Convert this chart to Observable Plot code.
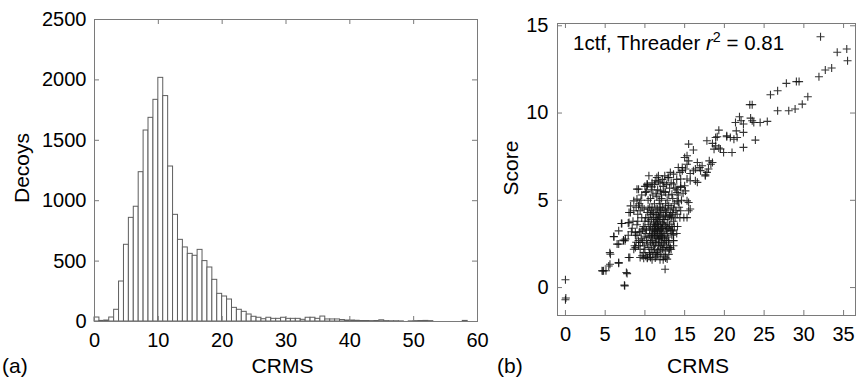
<!DOCTYPE html>
<html>
<head>
<meta charset="utf-8">
<script src="https://cdn.jsdelivr.net/npm/d3@7"></script>
<script src="https://cdn.jsdelivr.net/npm/@observablehq/plot@0.6"></script>
<style>
  body { margin: 0; background: #fff; }
  #wrap { position: relative; width: 856px; height: 380px; font-family: 'Liberation Sans', Arial, sans-serif; color: #000; overflow: hidden; }
  .lbl { position: absolute; font-size: 21px; line-height: 21px; white-space: nowrap; }
  .panel { position: absolute; top: 0; }
  #wrap svg text { font-size: 20px !important; font-family: 'Liberation Sans', Arial, sans-serif; }
</style>
</head>
<body>
<div id="wrap">
  <div class="panel" id="left" style="left:0px"></div>
  <div class="panel" id="right" style="left:490px"></div>
  <div class="lbl" style="left:2px; top:355px">(a)</div>
  <div class="lbl" style="left:282.5px; top:355px; transform:translateX(-50%)">CRMS</div>
  <div class="lbl" style="left:497px; top:355px">(b)</div>
  <div class="lbl" style="left:698px; top:355px; transform:translateX(-50%)">CRMS</div>
  <div class="lbl" style="left:20.5px; top:168px; transform:translate(-50%,-50%) rotate(-90deg)">Decoys</div>
  <div class="lbl" style="left:510px; top:167.5px; transform:translate(-50%,-50%) rotate(-90deg)">Score</div>
  <div class="lbl" style="left:573px; top:33px; font-size:20.5px; line-height:20.5px">1ctf, Threader <i>r</i><sup style="font-size:0.7em; line-height:0; vertical-align:0.55em">2</sup> = 0.81</div>
</div>
<script>
// ---------- Panel (a): histogram of decoy CRMS ----------
const binWidth = 10 / 13;
const decoyCounts = [
  33, 5, 8, 33, 97, 331, 635, 858, 950, 1236,
  1581, 1686, 1835, 2017, 1866, 1283, 883, 676, 613, 560,
  544, 593, 500, 447, 345, 229, 207, 182, 113, 97,
  80, 58, 39, 31, 19, 31, 22, 22, 31, 22,
  22, 22, 14, 31, 31, 22, 41, 17, 17, 17,
  12, 8, 8, 6, 4, 4, 3, 4, 10, 3,
  2, 2, 1, 0, 1, 3, 4, 5, 3, 0,
  0, 0, 0, 0, 0, 5
];
const xTicksA = [0, 10, 20, 30, 40, 50, 60];
const yTicksA = [0, 500, 1000, 1500, 2000, 2500];

// ---------- Panel (b): score vs CRMS ----------
const crms = [
  0.0, 0.0, 0.05, 4.7, 5.1, 5.6, 5.58, 6.7, 7.42, 7.67, 6.08, 7.04, 6.7, 7.3, 8.1, 12.54, 12.8, 9.0, 10.28, 10.5, 11.7,
  32.1, 34.2, 35.4, 35.5, 31.9, 32.7, 33.5, 25.8, 26.7, 27.8, 29.06, 29.4, 26.7, 28.1, 28.9, 29.8, 30.5, 23.2, 23.5,
  21.9, 23.3, 22.1, 21.4, 23.5, 23.7, 24.5, 25.4, 22.4, 23.9, 21.5, 22.4, 21.6, 20.75, 21.2, 20.3, 22.4,
  19.3, 19.1, 20.3, 17.8, 18.5, 18.9, 19.5, 19.9, 15.5, 16.1, 15.3, 15.5, 16.6, 17.2, 18.5, 18.0, 17.8, 16.35, 15.1,
  14.7, 15.7, 17.0, 14.5, 15.3, 16.35, 17.6, 13.2, 13.0, 11.5, 11.3, 12.4, 13.6, 14.5, 14.05, 15.1, 13.4, 12.6, 11.95,
  10.3, 15.3, 15.5, 15.7, 14.9, 13.6, 13.4, 13.6, 13.0, 13.2,
  20.96, 18.9, 18.7, 19.3, 18.1, 18.3, 17.6, 16.9, 16.1, 14.7, 15.3, 15.7, 16.6, 15.0, 15.5, 15.3, 14.06, 14.06, 13.4,
  13.6, 13.1, 11.6, 10.7, 9.85, 9.4, 10.3, 8.18, 8.6, 9.2, 7.9, 8.4, 9.0, 7.9, 7.5, 8.6, 9.2, 9.85, 14.2, 15.0,
  10.3, 10.9, 9.2, 10.06, 9.0, 8.2, 8.6, 8.0, 9.65, 7.1, 8.0, 6.7, 6.1, 7.55, 6.5, 7.3, 8.8, 8.8, 9.4, 9.65, 10.3,
  7.96, 6.7, 5.66, 5.45, 4.8, 4.6, 7.76, 7.46,
  10.8, 11.2, 11.5, 11.9, 12.2, 11.0, 11.7, 12.5, 10.5, 11.3, 11.8, 12.1, 12.4, 10.9, 11.6, 12.0, 12.7, 11.4, 10.7,
  10.2, 10.4, 11.1, 11.9, 12.3, 12.8, 13.1, 12.9, 13.3, 12.6, 11.8, 11.2, 10.6, 10.1, 9.8, 9.9, 10.3, 10.8, 11.4,
  12.0, 12.6, 13.0, 13.4, 13.6, 13.9, 13.5, 13.0, 12.4, 11.6, 11.0, 10.4, 9.9, 9.6, 9.5, 9.7, 10.0, 10.6, 11.3, 11.9,
  12.4, 11.0, 11.6, 12.2, 11.3, 10.9, 12.0, 11.7, 11.5, 12.6, 12.3, 10.6, 11.9, 12.8, 11.1, 13.2, 10.3, 12.9, 11.4,
  11.8, 12.5, 10.7, 12.1, 11.5, 13.7, 14.2, 14.5, 13.8, 14.0, 13.3, 12.7, 12.2, 14.6, 14.3, 14.8, 13.6, 14.4, 12.9,
  12.3, 11.7, 11.2, 10.8, 10.2, 9.6, 9.3, 9.1, 9.0, 8.8, 9.2, 9.4, 8.7, 10.1, 10.9, 12.7, 13.3, 13.6, 14.1, 14.4,
  13.2, 12.0, 11.6, 12.4, 11.2, 10.9, 11.8, 12.6, 13.0, 10.4, 10.0, 11.3, 11.7, 12.1, 11.0, 12.2, 13.4, 12.8, 11.4,
  10.7, 12.3, 11.9, 11.1, 12.7,
  11.3, 11.6, 12.0, 11.5, 10.9, 11.8, 12.3, 11.1, 10.6, 12.5, 11.4, 12.2, 11.7, 11.0, 12.6, 13.1, 11.9, 10.4, 10.0,
  9.7, 10.5, 11.2, 12.9, 13.5, 13.8, 12.1, 11.4, 10.7, 9.4, 9.1, 9.3, 9.6, 10.2, 12.4, 13.0, 12.2, 11.6, 10.8, 10.1,
  11.3, 12.0, 12.7, 13.3, 12.9, 13.5, 14.2, 14.0, 13.1, 12.5, 11.9, 10.9, 10.0, 9.5, 8.9, 8.5, 8.3, 8.9, 10.6, 11.6,
  12.3, 12.1, 11.5, 11.2, 10.8, 12.4, 11.8, 12.8, 11.0, 10.5, 12.0, 13.7, 14.5, 9.9, 11.4, 13.0, 12.6, 14.0, 13.6
];
const score = [
  0.45, -0.7, -0.6, 0.95, 0.96, 1.34, 2.0, 1.4, 0.14, 0.86, 2.93, 3.67, 2.49, 2.72, 1.72, 1.05, 1.63, 5.64, 5.93, 6.41, 6.41,
  14.37, 13.48, 13.67, 13.0, 12.08, 12.47, 12.58, 11.05, 11.28, 11.7, 11.8, 11.8, 10.13, 10.13, 10.23, 10.51, 10.93, 10.48, 10.48,
  9.79, 9.71, 9.56, 9.46, 9.56, 9.46, 9.46, 9.52, 9.37, 8.45, 8.98, 8.89, 8.6, 8.6, 8.5, 8.7, 8.03,
  9.02, 8.64, 8.64, 8.41, 8.26, 8.12, 7.94, 7.74, 8.22, 7.88, 7.55, 7.26, 7.17, 6.98, 7.17, 6.79, 6.6, 6.79, 6.79,
  6.7, 6.54, 6.7, 6.22, 6.22, 6.12, 6.4, 6.6, 6.31, 6.31, 6.12, 6.0, 5.93, 5.73, 5.45, 5.54, 5.35, 5.45, 5.54,
  5.83, 4.97, 4.4, 4.5, 4.01, 4.5, 4.1, 3.06, 2.68, 2.29,
  7.74, 8.6, 7.93, 8.0, 7.26, 7.07, 6.46, 6.88, 6.69, 6.88, 7.07, 6.12, 6.03, 5.83, 4.87, 4.01, 4.2, 4.97, 3.25,
  2.68, 2.2, 2.1, 1.72, 1.68, 1.72, 1.68, 4.3, 4.97, 4.69, 3.7, 3.4, 3.0, 3.0, 2.68, 2.2, 2.4, 2.0, 6.88, 7.45,
  5.9, 5.77, 5.64, 5.45, 5.07, 4.68, 4.4, 4.3, 4.6, 3.67, 3.73, 3.25, 2.91, 2.78, 2.49, 2.68, 3.15, 2.29, 2.58, 1.82, 1.72,
  1.72, 1.43, 1.91, 1.24, 0.96, 0.96, 0.8, 0.1,
  3.9, 3.5, 3.2, 3.8, 3.4, 3.1, 4.1, 3.9, 3.6, 2.9, 2.6, 3.0, 2.8, 2.7, 3.6, 4.4, 4.3, 4.5, 4.2,
  3.3, 2.9, 2.4, 2.2, 2.5, 3.1, 3.6, 4.0, 4.6, 4.8, 5.0, 4.8, 4.6, 4.0, 3.5, 2.9, 2.5, 2.2, 2.0,
  1.9, 2.1, 2.6, 3.0, 3.8, 4.4, 5.1, 5.3, 5.5, 5.6, 5.3, 5.0, 4.5, 4.0, 3.2, 2.6, 2.2, 1.9, 1.7, 1.6,
  1.8, 3.4, 3.0, 3.7, 3.8, 3.3, 3.3, 2.8, 4.0, 3.5, 4.1, 3.0, 4.6, 3.7, 4.3, 3.3, 4.3, 2.9, 2.6,
  3.3, 2.7, 2.6, 5.1, 5.2, 4.8, 5.3, 5.8, 5.7, 6.2, 6.0, 5.9, 6.2, 5.0, 4.6, 5.4, 6.5, 6.6, 6.3,
  5.8, 6.1, 5.9, 5.6, 5.5, 5.3, 4.8, 4.2, 3.6, 3.0, 2.7, 2.2, 2.4, 1.8, 1.6, 2.4, 2.2, 2.7, 3.5, 4.0,
  4.2, 2.9, 3.9, 4.5, 3.0, 4.6, 4.3, 4.1, 4.7, 3.8, 3.4, 3.3, 3.5, 2.6, 2.0, 2.2, 3.5, 5.0, 4.2,
  3.5, 3.2, 3.1, 3.7, 3.3,
  3.6, 3.3, 3.6, 2.8, 3.0, 4.0, 3.9, 4.0, 3.3, 3.0, 3.4, 2.9, 2.4, 2.6, 4.4, 4.1, 4.8, 4.5, 3.8,
  3.3, 2.3, 2.2, 2.3, 3.3, 4.0, 5.3, 5.4, 5.1, 4.4, 3.8, 3.2, 2.8, 2.7, 2.3, 3.4, 4.6, 4.5, 4.4, 3.1,
  2.5, 2.4, 2.7, 4.0, 4.5, 4.3, 4.9, 5.6, 5.7, 6.4, 6.0, 6.0, 5.8, 5.0, 4.6, 3.8, 3.2, 2.6, 2.0, 1.9,
  1.6, 3.4, 3.7, 3.2, 2.9, 3.6, 2.9, 3.4, 4.2, 4.0, 4.2, 3.5, 4.4, 2.4, 1.8, 1.9, 1.7, 3.1, 2.4
];
const xTicksB = [0, 5, 10, 15, 20, 25, 30, 35];
const yTicksB = [0, 5, 10, 15];

const font = "'Liberation Sans', Arial, sans-serif";
const frameColor = "#7a7a7a";
const tickLen = 5;
const fmt = d => String(d);

// Panel (a)
const wA = 490, hA = 380, mlA = 94, mrA = 13, mtA = 19, mbA = 59;
const fwA = wA - mlA - mrA, fhA = hA - mtA - mbA;
const plotA = Plot.plot({
  width: wA, height: hA,
  marginLeft: mlA, marginRight: mrA, marginTop: mtA, marginBottom: mbA,
  x: {domain: [0, 60]},
  y: {domain: [0, 2500]},
  style: {fontFamily: font, fontSize: "20px", color: "#000", background: "transparent", overflow: "visible"},
  marks: [
    Plot.rectY(decoyCounts, {
      x1: (d, i) => i * binWidth,
      x2: (d, i) => (i + 1) * binWidth,
      y: d => d,
      fill: "white", stroke: "#5e5e5e", strokeWidth: 1
    }),
    Plot.frame({stroke: frameColor}),
    Plot.ruleX(xTicksA, {x: d => d, stroke: frameColor, insetTop: fhA - tickLen}),
    Plot.ruleX(xTicksA, {x: d => d, stroke: frameColor, insetBottom: fhA - tickLen}),
    Plot.ruleY(yTicksA, {y: d => d, stroke: frameColor, insetRight: fwA - tickLen}),
    Plot.ruleY(yTicksA, {y: d => d, stroke: frameColor, insetLeft: fwA - tickLen}),
    Plot.axisX(xTicksA, {tickSize: 0, tickPadding: 11, fontSize: 20, tickFormat: fmt, label: null}),
    Plot.axisY(yTicksA, {tickSize: 0, tickPadding: 8, fontSize: 20, tickFormat: fmt, label: null})
  ]
});
document.getElementById("left").appendChild(plotA);

// Panel (b)
const thinPlus = {
  draw(context, size) {
    const r = Math.sqrt(size / Math.PI);
    context.moveTo(-r, 0); context.lineTo(r, 0);
    context.moveTo(0, -r); context.lineTo(0, r);
  }
};
const points = crms.map((c, i) => ({crms: c, score: score[i]}));
const wB = 366, hB = 380, mlB = 67, mrB = 1, mtB = 23, mbB = 65;
const fwB = wB - mlB - mrB, fhB = hB - mtB - mbB;
const plotB = Plot.plot({
  width: wB, height: hB,
  marginLeft: mlB, marginRight: mrB, marginTop: mtB, marginBottom: mbB,
  x: {domain: [-1, 36.5]},
  y: {domain: [-1.6, 15.13]},
  style: {fontFamily: font, fontSize: "20px", color: "#000", background: "transparent", overflow: "visible"},
  marks: [
    Plot.frame({stroke: frameColor}),
    Plot.ruleX(xTicksB, {x: d => d, stroke: frameColor, insetTop: fhB - tickLen}),
    Plot.ruleX(xTicksB, {x: d => d, stroke: frameColor, insetBottom: fhB - tickLen}),
    Plot.ruleY(yTicksB, {y: d => d, stroke: frameColor, insetRight: fwB - tickLen}),
    Plot.ruleY(yTicksB, {y: d => d, stroke: frameColor, insetLeft: fwB - tickLen}),
    Plot.dot(points, {x: "crms", y: "score", symbol: thinPlus, r: 4, fill: "none", stroke: "#111", strokeWidth: 1.1, strokeOpacity: 0.85}),
    Plot.axisX(xTicksB, {tickSize: 0, tickPadding: 11, fontSize: 20, tickFormat: fmt, label: null}),
    Plot.axisY(yTicksB, {tickSize: 0, tickPadding: 9, fontSize: 20, tickFormat: fmt, label: null})
  ]
});
document.getElementById("right").appendChild(plotB);
</script>
</body>
</html>
